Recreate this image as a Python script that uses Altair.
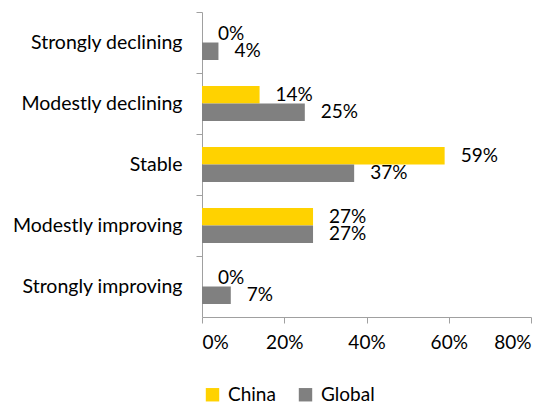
import altair as alt
import pandas as pd

categories = ["Strongly declining", "Modestly declining", "Stable", "Modestly improving", "Strongly improving"]
series = ["China", "Global"]
china = [0, 14, 59, 27, 0]
global_ = [4, 25, 37, 27, 7]
x_ticks = [0, 0.2, 0.4, 0.6, 0.8]

rows = []
for i, c in enumerate(categories):
    rows.append({"category": c, "series": "China", "value": china[i] / 100})
    rows.append({"category": c, "series": "Global", "value": global_[i] / 100})
df = pd.DataFrame(rows)

FONT = "Lato"
colors = ["#FFD200", "#808080"]

y = alt.Y("category:N", sort=categories, title=None,
          scale=alt.Scale(paddingInner=0, paddingOuter=0),
          axis=alt.Axis(bandPosition=0, labelFont=FONT, labelFontSize=19.5, labelColor="#000000",
                        labelPadding=14, tickSize=6, tickColor="#A0A0A0", domainColor="#A0A0A0",
                        labelAlign="right"))
yoff = alt.YOffset("series:N", sort=series,
                   scale=alt.Scale(paddingInner=0, paddingOuter=0.743))
x = alt.X("value:Q", title=None,
          scale=alt.Scale(domain=[0, 0.8], nice=False),
          axis=alt.Axis(values=x_ticks, format=".0%", grid=False, labelFont=FONT, labelFontSize=19,
                        labelColor="#000000", tickSize=6, tickColor="#A0A0A0", domainColor="#A0A0A0",
                        labelPadding=10))

bars = alt.Chart(df).mark_bar().encode(
    x=x, y=y, yOffset=yoff,
    color=alt.Color("series:N", sort=series, scale=alt.Scale(domain=series, range=colors),
                    legend=alt.Legend(title=None, orient="none", legendX=1, legendY=373,
                                      direction="horizontal", symbolType="square", symbolSize=180,
                                      symbolStrokeWidth=0, labelFont=FONT, labelFontSize=19,
                                      labelColor="#000000", columnPadding=20, labelOffset=6)),
)

labels = alt.Chart(df).mark_text(align="left", baseline="middle", dx=16, font=FONT,
                                 fontSize=19, color="#000000").encode(
    x="value:Q", y=alt.Y("category:N", sort=categories), yOffset=yoff,
    text=alt.Text("value:Q", format=".0%"),
)

chart = (bars + labels).properties(
    width=329, height=305,
    autosize=alt.AutoSizeParams(type="none"),
    padding={"left": 194, "top": 4, "right": 12, "bottom": 88},
).configure_view(stroke=None)

chart.save("out.html", embed_options={"renderer": "svg", "actions": False})
